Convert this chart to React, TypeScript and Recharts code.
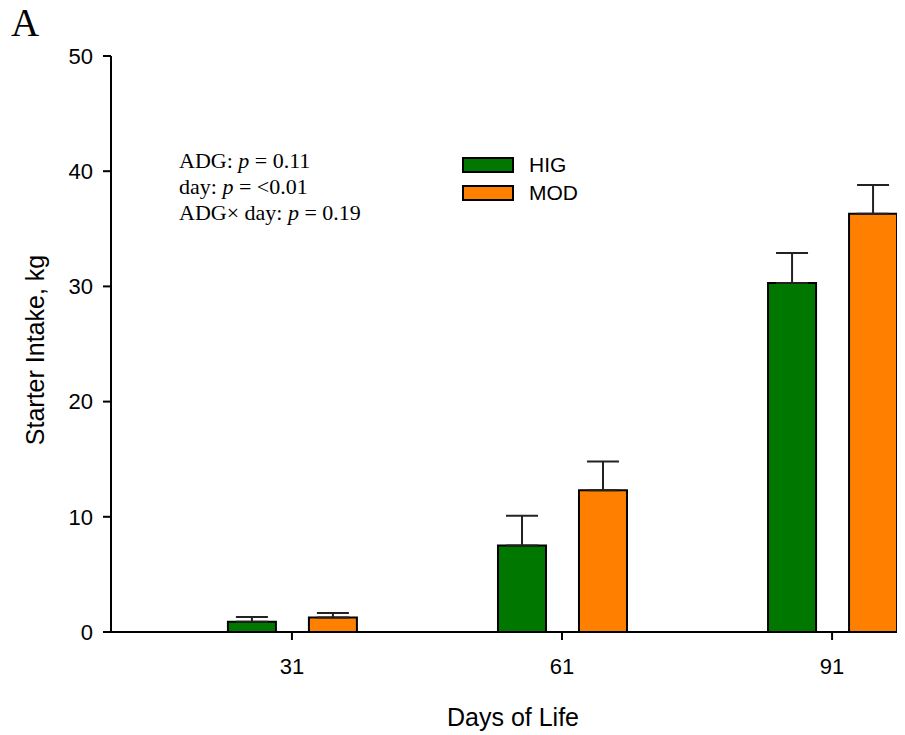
import React from 'react';
import { BarChart, Bar, XAxis, YAxis, ErrorBar } from 'recharts';

const days = [31, 61, 91];
const higIntake = [0.9, 7.5, 30.3];
const modIntake = [1.25, 12.3, 36.3];
const higSe = [0.4, 2.6, 2.6];
const modSe = [0.4, 2.5, 2.5];
const yTicks = [0, 10, 20, 30, 40, 50];

const seriesNames = ['HIG', 'MOD'];
const seriesColors = ['#007800', '#ff8000'];

const data = days.map((d, i) => ({
  day: d,
  HIG: higIntake[i],
  MOD: modIntake[i],
  higErr: [0, higSe[i]],
  modErr: [0, modSe[i]],
}));

const sans = '"Liberation Sans", Arial, Helvetica, sans-serif';
const serif = '"Liberation Serif", "Times New Roman", serif';

const YTitle = ({ viewBox }: any) => {
  const cx = viewBox.x + 27;
  const cy = viewBox.y + viewBox.height / 2 + 6;
  return (
    <text
      x={cx}
      y={cy}
      transform={`rotate(-90 ${cx} ${cy})`}
      textAnchor="middle"
      dominantBaseline="central"
      fontFamily={sans}
      fontSize={25}
      fill="#000"
    >
      Starter Intake, kg
    </text>
  );
};

const XTitle = ({ viewBox }: any) => (
  <text
    x={viewBox.x + viewBox.width / 2 + 5}
    y={viewBox.y + 85}
    textAnchor="middle"
    dominantBaseline="central"
    fontFamily={sans}
    fontSize={25}
    fill="#000"
  >
    Days of Life
  </text>
);

const LegendBox = () => (
  <div
    style={{
      position: 'absolute',
      left: 454,
      top: 143,
      fontFamily: sans,
      fontSize: 21,
      color: '#000',
    }}
  >
    {seriesNames.map((name, i) => (
      <div key={name} style={{ display: 'flex', alignItems: 'center', height: 28 }}>
        <div
          style={{
            width: 48,
            height: 12,
            background: seriesColors[i],
            border: '2px solid #000',
            marginRight: 15,
          }}
        />
        <span>{name}</span>
      </div>
    ))}
  </div>
);

export default function App() {
  return (
    <div style={{ position: 'relative', width: 897, height: 727 }}>
      <div
        style={{
          position: 'absolute',
          left: 3,
          top: -5,
          fontFamily: serif,
          fontSize: 39,
          lineHeight: 1,
        }}
      >
        A
      </div>
      <div
        style={{
          position: 'absolute',
          left: 171,
          top: 140,
          fontFamily: serif,
          fontSize: 22,
          lineHeight: '26px',
          zIndex: 2,
        }}
      >
        <div>
          ADG: <i>p</i> = 0.11
        </div>
        <div>
          day: <i>p</i> = &lt;0.01
        </div>
        <div>
          ADG× day: <i>p</i> = 0.19
        </div>
      </div>
      <LegendBox />
      <BarChart
        width={897}
        height={727}
        data={data}
        margin={{ top: 48, right: 0, bottom: 0, left: 0 }}
        barSize={48}
        barGap={33}
      >
        <XAxis
          dataKey="day"
          type="number"
          domain={[10.9, 99.1]}
          ticks={days}
          allowDataOverflow
          height={103}
          tickSize={8}
          tickMargin={18}
          stroke="#000"
          strokeWidth={2}
          tick={{ fill: '#000', fontSize: 22, fontFamily: sans }}
          label={<XTitle />}
        />
        <YAxis
          domain={[0, 50]}
          ticks={yTicks}
          width={103}
          tickSize={8}
          tickMargin={10}
          stroke="#000"
          strokeWidth={2}
          tick={{ fill: '#000', fontSize: 22, fontFamily: sans }}
          label={<YTitle />}
        />
        <Bar dataKey="HIG" fill={seriesColors[0]} stroke="#000" strokeWidth={2} isAnimationActive={false}>
          <ErrorBar dataKey="higErr" width={16} stroke="#222" strokeWidth={2} direction="y" isAnimationActive={false} />
        </Bar>
        <Bar dataKey="MOD" fill={seriesColors[1]} stroke="#000" strokeWidth={2} isAnimationActive={false}>
          <ErrorBar dataKey="modErr" width={16} stroke="#222" strokeWidth={2} direction="y" isAnimationActive={false} />
        </Bar>
      </BarChart>
    </div>
  );
}
